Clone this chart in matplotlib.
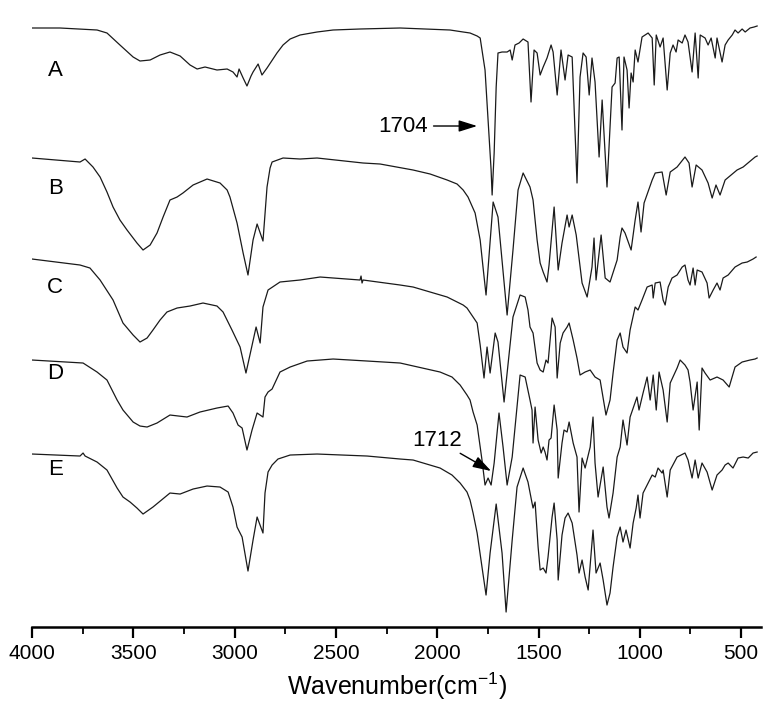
import matplotlib
matplotlib.use("Agg")
import matplotlib.pyplot as plt
from matplotlib.ticker import MultipleLocator

plt.rcParams['font.family'] = ['Liberation Sans', 'DejaVu Sans']
plt.rcParams['mathtext.default'] = 'regular'

# FTIR spectra, transmittance in arbitrary units (0 = baseline of each trace)
wn_a = [4000, 3862, 3679, 3630, 3566, 3501, 3467, 3417, 3368, 3319, 3269, 3220, 3185,
        3146, 3087, 3037, 3008, 2988, 2978, 2958, 2939, 2919, 2909, 2884, 2865, 2840,
        2791, 2761, 2726, 2677, 2593, 2514, 2381, 2183, 1937, 1872, 1838, 1803, 1788,
        1764, 1749, 1734, 1729, 1719, 1709, 1700, 1680,
        1655, 1640, 1630, 1616, 1596, 1576, 1552, 1537, 1522, 1507, 1492, 1477, 1458,
        1438, 1428, 1408, 1389, 1369, 1354, 1334, 1310, 1295, 1280, 1265, 1250, 1236,
        1221, 1201, 1186, 1162, 1137, 1122, 1112, 1102, 1088, 1078, 1063, 1053, 1043,
        1033, 1023, 1009, 989, 959, 939, 929, 919, 900, 885, 865, 850, 836, 821, 811,
        791, 777, 762, 742, 727, 712, 702, 678, 663, 648, 628, 619, 594, 579, 564, 544,
        530, 515, 495, 480, 456, 436, 421]
t_a = [0, 0, -2, -5, -17, -29, -33, -32, -27, -24, -28, -37, -41,
       -39, -42, -41, -44, -49, -41, -50, -58, -48, -44, -36, -47, -40,
       -25, -17, -11, -7, -4, -2, -1, 0, -2, -4, -5, -8, -10,
       -42, -92, -142, -167, -125, -59, -25, -24,
       -24, -22, -32, -17, -15, -11, -14, -74, -22, -25, -47, -39, -30,
       -17, -24, -67, -22, -52, -27, -29, -155, -49, -25, -29, -67, -30,
       -54, -129, -72, -159, -59, -55, -30, -29, -102, -29, -42, -80, -45,
       -54, -22, -34, -9, -5, -10, -57, -7, -19, -10, -62, -25, -17, -24, -12,
       -15, -7, -14, -44, -5, -50, -7, -10, -17, -10, -30, -10, -34, -17, -12, -7,
       -2, -5, -1, -4, 0, 1, 2]

wn_b = [4000, 3763, 3738, 3699, 3664, 3630, 3600, 3566, 3531, 3482, 3452, 3417, 3383,
        3353, 3319, 3284, 3255, 3205, 3136, 3072, 3037, 3023, 2988, 2958, 2934, 2909,
        2889, 2860, 2840, 2825, 2815, 2761, 2677, 2593, 2366, 2282, 2119, 2035, 1951,
        1902, 1872, 1848, 1813, 1788, 1774, 1759, 1724, 1700, 1655, 1626, 1601, 1576,
        1542, 1527, 1507, 1492, 1477, 1458, 1448, 1423, 1403, 1384, 1359, 1349, 1334,
        1314, 1285, 1260, 1236, 1226, 1216, 1191, 1171, 1147, 1112, 1097, 1088, 1073,
        1043, 1023, 1009, 994, 979, 939, 924, 890, 870, 850, 816, 777, 757, 742, 722,
        693, 663, 643, 624, 604, 579, 520, 490, 431, 421]
t_b = [0, -4, -1, -9, -19, -34, -49, -62, -72, -85, -92, -87, -75,
       -59, -42, -39, -35, -27, -21, -25, -32, -39, -65, -95, -117, -82,
       -66, -83, -29, -10, -4, 0, -1, 0, -5, -6, -12, -16, -22,
       -26, -32, -39, -55, -82, -109, -137, -44, -59, -157, -92, -32, -15,
       -29, -42, -82, -105, -114, -124, -107, -49, -112, -85, -57, -69, -57,
       -77, -125, -139, -109, -80, -122, -77, -120, -124, -102, -79, -70, -75,
       -92, -62, -44, -74, -45, -22, -15, -14, -37, -14, -9, 1, -5, -29, -7,
       -12, -25, -40, -27, -37, -22, -12, -9, 1, 2]

wn_c = [4000, 3763, 3714, 3664, 3600, 3551, 3501, 3467, 3432, 3403, 3368, 3334, 3284,
        3220, 3156, 3087, 3057, 3013, 2973, 2944, 2919, 2894, 2874, 2860, 2835, 2776,
        2677, 2578, 2381, 2376, 2371, 2366, 2183, 2119, 2035, 1951, 1872, 1853, 1823,
        1803, 1788, 1769, 1754, 1739, 1714, 1700, 1670, 1626, 1591, 1566, 1552, 1542,
        1527, 1507, 1492, 1477, 1463, 1453, 1433, 1418, 1408, 1393, 1379, 1359, 1349,
        1329, 1310, 1295, 1270, 1245, 1221, 1196, 1167, 1147, 1132, 1112, 1097, 1083,
        1063, 1048, 1023, 1009, 989, 964, 939, 934, 924, 900, 885, 875, 860, 841, 816,
        791, 777, 762, 752, 737, 727, 717, 693, 668, 658, 638, 619, 604, 589, 564, 530,
        495, 470, 441, 426]
t_c = [0, -6, -9, -21, -41, -64, -76, -83, -79, -71, -61, -53, -49,
       -47, -44, -47, -53, -71, -88, -114, -91, -68, -84, -48, -31, -23,
       -21, -18, -21, -17, -24, -21, -26, -28, -33, -38, -46, -49, -58,
       -64, -86, -119, -88, -114, -74, -83, -143, -58, -36, -38, -51, -68,
       -74, -104, -111, -113, -101, -104, -59, -68, -119, -84, -74, -68, -64,
       -81, -99, -116, -113, -111, -118, -121, -156, -141, -114, -81, -74, -88,
       -94, -71, -48, -51, -41, -28, -26, -39, -24, -23, -41, -46, -28, -19, -16,
       -8, -6, -21, -26, -9, -26, -11, -13, -24, -39, -31, -24, -31, -19, -16, -8,
       -4, -3, 0, 2]

wn_d = [4000, 3748, 3679, 3630, 3580, 3551, 3501, 3467, 3432, 3383, 3319, 3235, 3171,
        3087, 3032, 3008, 2983, 2963, 2939, 2914, 2889, 2860, 2850, 2835, 2815, 2776,
        2726, 2642, 2514, 2346, 2183, 1986, 1927, 1887, 1853, 1838, 1823, 1803, 1779,
        1764, 1749, 1734, 1719, 1695, 1675, 1655, 1630, 1591, 1566, 1542, 1532, 1527,
        1517, 1502, 1487, 1477, 1468, 1458, 1448, 1438, 1423, 1408, 1403, 1384, 1374,
        1359, 1349, 1329, 1310, 1300, 1285, 1270, 1245, 1231, 1221, 1206, 1181, 1162,
        1152, 1132, 1112, 1097, 1083, 1063, 1048, 1014, 1004, 984, 964, 949, 934, 919,
        905, 885, 865, 850, 816, 801, 777, 762, 752, 737, 717, 707, 693, 678, 653, 619,
        589, 559, 530, 495, 456, 431, 421]
t_d = [0, -3, -12, -20, -40, -50, -62, -66, -67, -63, -55, -57, -52,
       -48, -46, -53, -65, -68, -90, -70, -53, -57, -37, -32, -29, -12,
       -7, -1, 1, -1, -3, -12, -17, -25, -35, -40, -52, -65, -100,
       -125, -118, -125, -103, -53, -87, -125, -97, -15, -17, -40, -50, -83,
       -47, -80, -93, -87, -92, -100, -80, -78, -45, -70, -118, -83, -70,
       -72, -62, -83, -97, -152, -98, -108, -87, -57, -103, -137, -107, -147,
       -158, -133, -97, -87, -60, -85, -57, -37, -50, -33, -17, -40, -15, -50,
       -12, -30, -62, -23, -8, 0, -5, -10, -22, -50, -22, -70, -8, -13, -20, -17,
       -20, -27, -7, -2, 0, 1, 2]

wn_e = [4000, 3763, 3748, 3738, 3679, 3630, 3580, 3551, 3516, 3482, 3452, 3403, 3319,
        3269, 3205, 3136, 3072, 3032, 3008, 2988, 2963, 2934, 2909, 2889, 2860, 2850,
        2835, 2815, 2786, 2726, 2593, 2346, 2183, 2119, 1986, 1927, 1887, 1853, 1838,
        1823, 1803, 1779, 1759, 1739, 1709, 1680, 1660, 1630, 1606, 1576, 1552, 1532,
        1527, 1517, 1502, 1492, 1477, 1463, 1453, 1433, 1423, 1408, 1403, 1384, 1369,
        1354, 1334, 1310, 1300, 1285, 1270, 1255, 1231, 1216, 1196, 1181, 1162, 1147,
        1132, 1112, 1097, 1083, 1068, 1048, 1033, 1018, 1009, 999, 984, 959, 939, 924,
        910, 890, 885, 865, 850, 816, 777, 762, 742, 727, 712, 693, 668, 643, 619, 594,
        579, 564, 540, 515, 490, 465, 441, 421]
t_e = [0, -2, 1, -2, -8, -16, -34, -43, -48, -54, -60, -53, -39,
       -40, -35, -32, -33, -38, -53, -73, -83, -117, -86, -63, -79, -39,
       -18, -11, -5, -1, 0, -2, -5, -6, -14, -21, -29, -38, -46,
       -59, -79, -113, -141, -99, -50, -99, -158, -86, -33, -14, -28, -49,
       -54, -48, -93, -116, -114, -119, -103, -63, -49, -86, -126, -81, -64,
       -59, -69, -101, -119, -106, -123, -136, -76, -119, -109, -126, -151, -139,
       -113, -83, -73, -88, -76, -94, -69, -54, -41, -64, -39, -29, -21, -23,
       -14, -19, -16, -43, -16, -3, 1, -6, -24, -6, -24, -9, -18, -36, -21, -16,
       -11, -9, -14, -4, -3, -4, 1, 2]

labels = ['A', 'B', 'C', 'D', 'E']
offsets = [672, 542, 441, 340, 246]
label_y = [630, 512, 413, 327, 231]
spectra = [(wn_a, t_a), (wn_b, t_b), (wn_c, t_c), (wn_d, t_d), (wn_e, t_e)]

fig = plt.figure(figsize=(7.77, 7.14), dpi=100)
ax = fig.add_axes([0.0412, 0.1218, 0.9387, 0.8782])

for (wn, t), off, lab, ly in zip(spectra, offsets, labels, label_y):
    ax.plot(wn, [v + off for v in t], color='#1a1a1a', lw=0.9)
    ax.text(3886, ly, lab, fontsize=16, ha='center', va='center')

ax.annotate('1704', xy=(1803, 574), xytext=(2168, 574), fontsize=16,
            ha='center', va='center',
            arrowprops=dict(arrowstyle='-|>,head_length=0.7,head_width=0.22',
                            color='black', lw=1, shrinkA=2, shrinkB=0))
ax.annotate('1712', xy=(1734, 229), xytext=(2001, 260), fontsize=16,
            ha='center', va='center',
            arrowprops=dict(arrowstyle='-|>,head_length=0.7,head_width=0.22',
                            color='black', lw=1, shrinkA=0, shrinkB=0))

ax.set_xlim(4000, 400)
ax.set_ylim(73, 700)
ax.set_yticks([])
for side in ['left', 'right', 'top']:
    ax.spines[side].set_visible(False)
ax.spines['bottom'].set_linewidth(1.8)
ax.xaxis.set_major_locator(MultipleLocator(500))
ax.xaxis.set_minor_locator(MultipleLocator(250))
ax.tick_params(axis='x', which='major', direction='out', length=8, width=1.6,
               labelsize=15, pad=4)
ax.tick_params(axis='x', which='minor', direction='out', length=5, width=1.3)
ax.set_xlabel('Wavenumber(cm$^{-1}$)', fontsize=18, labelpad=6)

fig.savefig('out.png', dpi=100)
